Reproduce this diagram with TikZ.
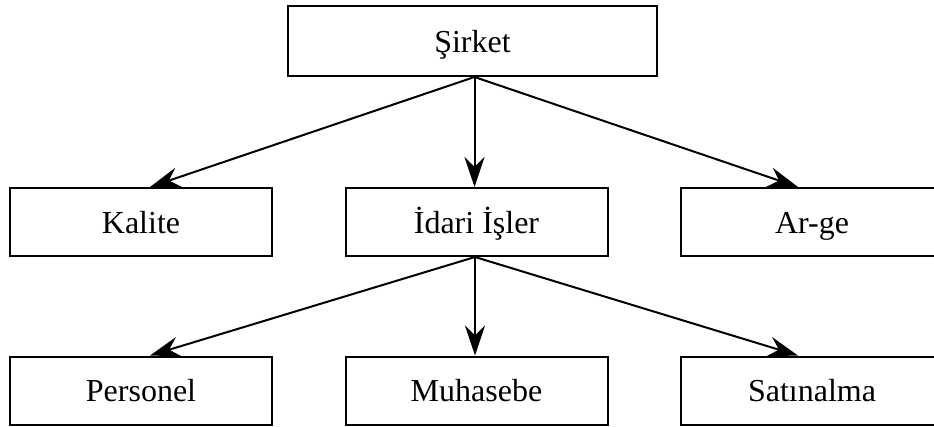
\documentclass[tikz,border=0pt]{standalone}
\usepackage{fontspec}
\setmainfont{Liberation Serif}
\usetikzlibrary{arrows.meta}
\begin{document}
\begin{tikzpicture}[x=1pt,y=-1pt,
  box/.style={draw=black, line width=2pt, fill=white, minimum width=262pt,
    minimum height=68pt, inner sep=0pt, text height=25pt, text depth=3pt,
    font=\fontsize{32}{38}\selectfont},
  link/.style={line width=2pt, -{Stealth[length=30pt,width=20pt,inset=10pt]}}]
\useasboundingbox (0,0) rectangle (934,426);
% top level
\node[box, minimum width=369pt, minimum height=70pt] (sirket) at (472.5,41) {Şirket};
% departments
\node[box] (kalite) at (141,222) {Kalite};
\node[box] (idari)  at (476.5,222) {İdari İşler};
\node[box] (arge)   at (812,222) {Ar-ge};
% administrative units
\node[box] (personel)  at (141,390.5) {Personel};
\node[box] (muhasebe)  at (476.5,390.5) {Muhasebe};
\node[box] (satinalma) at (812,390.5) {Satınalma};
% connectors
\coordinate (top) at ([xshift=2pt]sirket.south);
\coordinate (mid) at ([xshift=-1.5pt]idari.south);
\draw[link] (top) -- ([xshift=9pt]kalite.north);
\draw[link] (top) -- ([xshift=-2pt]idari.north);
\draw[link] (top) -- ([xshift=-14pt]arge.north);
\draw[link] (mid) -- ([xshift=9pt]personel.north);
\draw[link] (mid) -- ([xshift=-1.5pt]muhasebe.north);
\draw[link] (mid) -- ([xshift=-14pt]satinalma.north);
\end{tikzpicture}
\end{document}
